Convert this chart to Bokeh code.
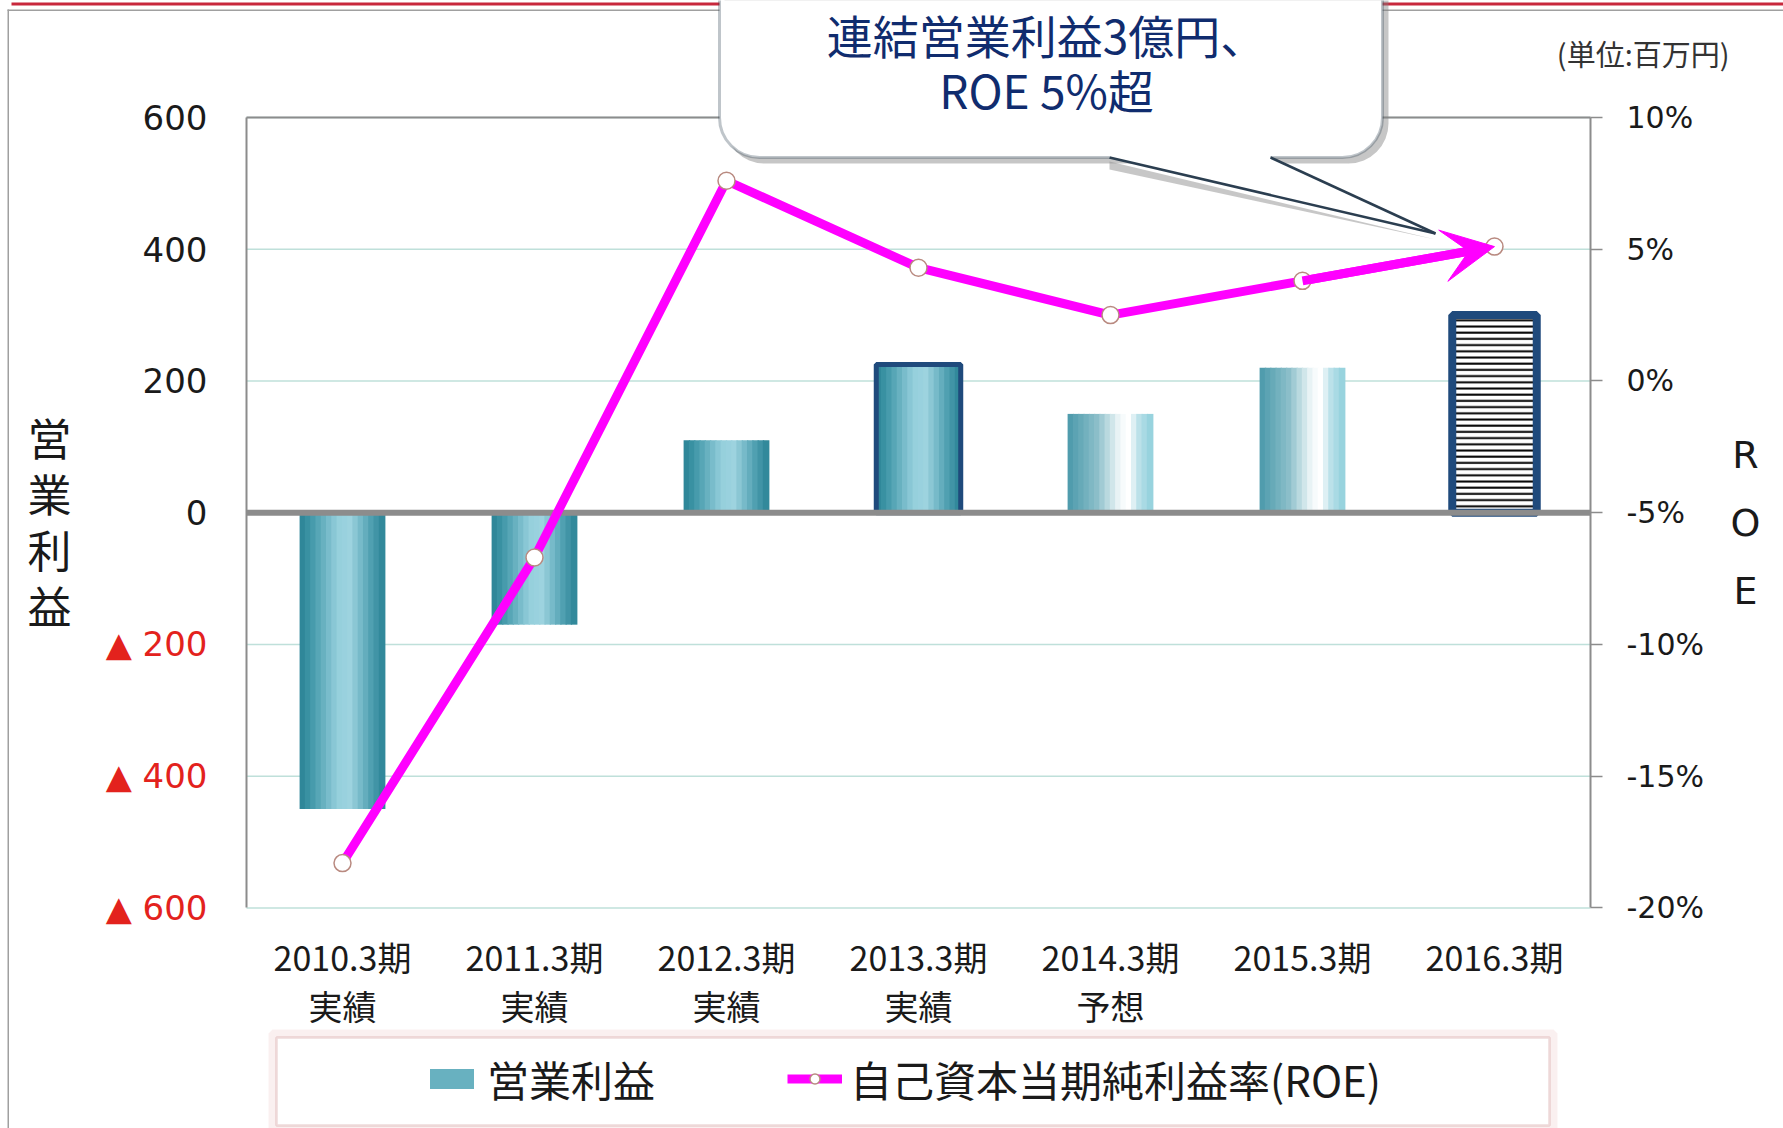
from bokeh.plotting import figure
from bokeh.models import (ColumnDataSource, Range1d, LinearAxis, FixedTicker,
                          PrintfTickFormatter, Label, BoxAnnotation, PolyAnnotation,
                          Arrow, VeeHead, Legend, LegendItem, CDSView, IndexFilter)
from bokeh.transform import dodge
from bokeh.embed import file_html
from bokeh.resources import INLINE

# ---------------- data ----------------
periods = ["2010.3期", "2011.3期", "2012.3期", "2013.3期", "2014.3期", "2015.3期", "2016.3期"]
period_notes = ["実績", "実績", "実績", "実績", "予想", "", ""]
operating_profit = [-450, -170, 110, 225, 150, 220, 300]      # 百万円
roe_pct = [-18.3, -6.7, 7.6, 4.3, 2.5, 3.8, 5.1]              # %
left_ticks = [-600, -400, -200, 0, 200, 400, 600]
right_ticks = [-20, -15, -10, -5, 0, 5, 10]

# ---------------- styles / geometry ----------------
W, H = 1783, 1128
FL, FR, FT, FB = 246, 1590, 117, 907.4        # plot area in canvas px
bar_style = ["cyl", "cyl", "cyl", "cyl", "fade", "fade", "hatch"]
GRAD = {
    "cyl": [(0.0, "#2a8294"), (0.12, "#3d95a6"), (0.45, "#95cfdc"), (0.6, "#9dd3df"),
            (0.85, "#4e9fb0"), (1.0, "#2b8395")],
    "fade": [(0.0, "#4a99aa"), (0.35, "#8cbfca"), (0.62, "#f2f9fa"), (0.72, "#ffffff"),
             (0.85, "#b8e0e8"), (1.0, "#90cfdc")],
    "hatch": [(0.0, "#ffffff"), (1.0, "#ffffff")],
}
NAVY = "#1f4a7c"
GRAY = "#8c8c8c"
MAGENTA = "#ff00ff"
N_STRIPS = 16
BAR_W = 0.44


def _hex(c):
    return tuple(int(c[i:i + 2], 16) for i in (1, 3, 5))


def grad_color(stops, t):
    for (t0, c0), (t1, c1) in zip(stops[:-1], stops[1:]):
        if t0 <= t <= t1:
            f = 0 if t1 == t0 else (t - t0) / (t1 - t0)
            a, b = _hex(c0), _hex(c1)
            return "#%02x%02x%02x" % tuple(round(x + (y - x) * f) for x, y in zip(a, b))
    return stops[-1][1]


n = len(periods)
labels = [p + ("\n" + q if q else "") for p, q in zip(periods, period_notes)]
xi = list(range(n))
data = dict(xi=xi, profit=operating_profit, roe=roe_pct)
for k in range(N_STRIPS):
    t = (k + 0.5) / N_STRIPS
    data[f"c{k}"] = [grad_color(GRAD[s], t) for s in bar_style]
src = ColumnDataSource(data)

# ranges so that the category band [-0.5, n-0.5] x [-600, 600] sits at FL..FR, FT..FB
ppx = (FR - FL) / n
x0 = -0.5 - FL / ppx
x1 = n - 0.5 + (W - FR) / ppx
ymin, ymax = left_ticks[0], left_ticks[-1]
ppy = (FB - FT) / (ymax - ymin)
y1 = ymax + FT / ppy
y0 = ymin - (H - FB) / ppy
# right axis mapped linearly onto the left one
ra, rb = right_ticks[0], right_ticks[-1]
k_r = (rb - ra) / (ymax - ymin)
r0 = ra + (y0 - ymin) * k_r
r1 = ra + (y1 - ymin) * k_r

p = figure(x_range=Range1d(x0, x1), y_range=Range1d(y0, y1), width=W, height=H,
           x_axis_type=None, y_axis_type=None, output_backend="svg", toolbar_location=None,
           min_border=0, background_fill_color="white", border_fill_color="white")
p.outline_line_color = None
p.grid.visible = False
p.extra_y_ranges = {"roe": Range1d(r0, r1)}

# gridlines (inside the category band)
grid_src = ColumnDataSource(dict(t=left_ticks))
p.segment(x0=-0.5, x1=n - 0.5, y0="t", y1="t", source=grid_src,
          line_color="#bfe0da", line_width=1.5)

# left axis (non-negative, black)
ax = LinearAxis(ticker=FixedTicker(ticks=[t for t in left_ticks if t >= 0]),
                fixed_location=-0.5, bounds=(ymin, ymax),
                axis_line_color=GRAY, axis_line_width=2,
                major_tick_line_color=None, minor_tick_line_color=None,
                major_tick_out=0, major_tick_in=0, major_label_standoff=39,
                major_label_text_font="DejaVu Sans", major_label_text_font_size="34px",
                major_label_text_color="#1a1a1a")
p.add_layout(ax, "left")

# left axis (negative, red with ▲)
neg = [t for t in left_ticks if t < 0]
ax2 = LinearAxis(ticker=FixedTicker(ticks=neg), fixed_location=-0.5, bounds=(ymin, ymax),
                 major_label_overrides={t: "▲ " + str(abs(t)) for t in neg},
                 axis_line_color=None, major_tick_line_color=None, minor_tick_line_color=None,
                 major_tick_out=0, major_tick_in=0, major_label_standoff=39,
                 major_label_text_font="DejaVu Sans", major_label_text_font_size="34px",
                 major_label_text_color="#e3221d")
p.add_layout(ax2, "left")

# right axis (ROE)
axr = LinearAxis(y_range_name="roe", ticker=FixedTicker(ticks=right_ticks),
                 formatter=PrintfTickFormatter(format="%d%%"),
                 fixed_location=n - 0.5, bounds=(ra, rb),
                 axis_line_color=GRAY, axis_line_width=2,
                 major_tick_line_color=GRAY, major_tick_line_width=1.5,
                 major_tick_out=12, major_tick_in=0, minor_tick_line_color=None,
                 major_label_standoff=24, major_label_text_font="DejaVu Sans",
                 major_label_text_font_size="30px", major_label_text_color="#1a1a1a")
p.add_layout(axr, "right")

# x axis (categories)
xa = LinearAxis(ticker=FixedTicker(ticks=xi), fixed_location=ymin,
                major_label_overrides={i: lab for i, lab in zip(xi, labels)},
                axis_line_color=None, major_tick_line_color=None, minor_tick_line_color=None,
                major_tick_out=0, major_tick_in=0, major_label_standoff=24,
                major_label_text_font="Noto Sans CJK JP", major_label_text_font_size="34px",
                major_label_text_color="#1a1a1a", major_label_text_line_height=1.0)
p.add_layout(xa, "below")

# bars (gradient made of strips)
strips = []
for k in range(N_STRIPS):
    off = -BAR_W / 2 + (k + 0.5) * BAR_W / N_STRIPS
    r = p.vbar(x=dodge("xi", off), top="profit", bottom=0,
               width=BAR_W / N_STRIPS * 1.25, source=src,
               fill_color=f"c{k}", line_color=None)
    strips.append(r)

p.vbar(x="xi", top="profit", bottom=0, width=BAR_W, source=src,
       view=CDSView(filter=IndexFilter([3])), fill_color=None,
       line_color=NAVY, line_width=5)
p.vbar(x="xi", top="profit", bottom=0, width=BAR_W, source=src,
       view=CDSView(filter=IndexFilter([6])), fill_color="white",
       hatch_pattern="horizontal_line", hatch_color="black", hatch_weight=2,
       hatch_scale=6.2, line_color=NAVY, line_width=8)

# frame top line and zero line
p.segment(x0=-0.5, x1=n - 0.5, y0=ymax, y1=ymax, line_color=GRAY, line_width=2)
p.segment(x0=-0.5, x1=n - 0.5, y0=0, y1=0, line_color=GRAY, line_width=6)

# ROE line
line_r = p.line(x="xi", y="roe", source=src, y_range_name="roe",
                line_color=MAGENTA, line_width=9)
arrow = Arrow(end=VeeHead(size=52, fill_color=MAGENTA, line_color=MAGENTA),
              x_start=xi[-2], y_start=roe_pct[-2], x_end=xi[-1], y_end=roe_pct[-1],
              y_range_name="roe", line_color=MAGENTA, line_width=9)
p.add_layout(arrow)
mark_r = p.scatter(x="xi", y="roe", source=src, y_range_name="roe", size=17,
                   fill_color="white", line_color="#b98a80", line_width=1.5)

# ---- page decorations (canvas units) ----
CU = dict(left_units="canvas", right_units="canvas", top_units="canvas", bottom_units="canvas")
p.add_layout(BoxAnnotation(left=11, right=W, top=2, bottom=5, fill_color="#c8283c",
                           fill_alpha=1, line_color=None, **CU))
p.add_layout(BoxAnnotation(left=7, right=W, top=9, bottom=10.5, fill_color="#a0a0a0",
                           fill_alpha=1, line_color=None, **CU))
p.add_layout(BoxAnnotation(left=7, right=8.5, top=9, bottom=H, fill_color="#a0a0a0",
                           fill_alpha=1, line_color=None, **CU))

# callout
p.add_layout(BoxAnnotation(left=724, right=1388, top=-60, bottom=163, border_radius=40,
                           fill_color="#808080", fill_alpha=0.45, line_color=None, **CU))
p.add_layout(PolyAnnotation(xs=[1109, 1435, 1109], ys=[161, 239, 169], xs_units="canvas",
                            ys_units="canvas", fill_color="#909090", fill_alpha=0.5,
                            line_color=None))
p.add_layout(BoxAnnotation(left=719, right=1382, top=-60, bottom=157, border_radius=40,
                           fill_color="white", fill_alpha=1, line_color="#2b3e50",
                           line_width=3, **CU))
p.add_layout(PolyAnnotation(xs=[1109, 1109, 1270, 1270, 1435], ys=[157, 151, 151, 157, 233],
                            xs_units="canvas", ys_units="canvas", fill_color="white",
                            fill_alpha=1, line_color=None))
for bx in (1109, 1270):
    p.add_layout(Arrow(end=None, x_start=bx, y_start=157, x_end=1435, y_end=233,
                       start_units="canvas", end_units="canvas",
                       line_color="#2b3e50", line_width=2.5))
p.add_layout(Label(x=1046, y=33, text="連結営業利益3億円、", x_units="canvas", y_units="canvas",
                   text_align="center", text_baseline="middle", text_font="Noto Sans CJK JP",
                   text_font_size="46px", text_color="#102c6e"))
p.add_layout(Label(x=1046, y=88, text="ROE 5%超", x_units="canvas", y_units="canvas",
                   text_align="center", text_baseline="middle", text_font="Noto Sans CJK JP",
                   text_font_size="46px", text_color="#102c6e"))

# axis titles & unit
p.add_layout(Label(x=49, y=404, text="営\n業\n利\n益", x_units="canvas", y_units="canvas",
                   text_align="center", text_baseline="top", text_font="Noto Sans CJK JP",
                   text_font_size="44px", text_line_height=0.88, text_color="#1a1a1a"))
p.add_layout(Label(x=1745, y=432, text="R\nO\nE", x_units="canvas", y_units="canvas",
                   text_align="center", text_baseline="top", text_font="DejaVu Sans",
                   text_font_size="38px", text_line_height=1.55, text_color="#1a1a1a"))
p.add_layout(Label(x=1729, y=52, text="(単位:百万円)", x_units="canvas", y_units="canvas",
                   text_align="right", text_baseline="middle", text_font="Noto Sans CJK JP",
                   text_font_size="29px", text_color="#333333"))

# legend box + legend
p.add_layout(BoxAnnotation(left=272, right=1553, top=1033, bottom=1129, fill_alpha=0,
                           line_color="#f0cccc", line_width=8, **CU))
p.add_layout(BoxAnnotation(left=276, right=1549, top=1037, bottom=1125, fill_color="white",
                           fill_alpha=1, line_color="#c98383", line_width=2.5, **CU))
legend = Legend(items=[LegendItem(label="営業利益", renderers=[strips[4]], index=0),
                       LegendItem(label="自己資本当期純利益率(ROE)", renderers=[line_r, mark_r])],
                orientation="horizontal", location=(424, 19), padding=0, margin=0,
                spacing=132, glyph_width=55, glyph_height=25, label_standoff=8,
                label_text_font="Noto Sans CJK JP", label_text_font_size="42px",
                label_text_color="#1a1a1a", border_line_alpha=0, background_fill_alpha=0)
p.add_layout(legend)

open("out.html", "w").write(file_html(p, INLINE))
